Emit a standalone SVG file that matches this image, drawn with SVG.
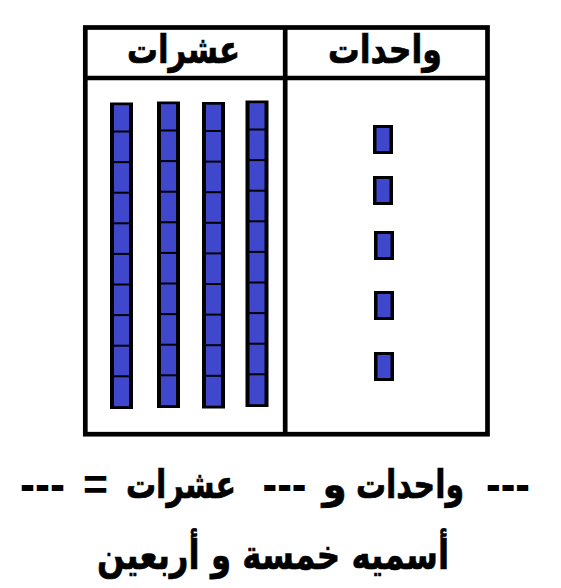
<svg xmlns="http://www.w3.org/2000/svg" width="561" height="588" viewBox="0 0 561 588">
<style>
.ar{font-family:"DejaVu Sans","Noto Sans",sans-serif;font-weight:bold;fill:#000;stroke:#000;stroke-width:0.7;}
.lat{font-family:"Liberation Sans",Arial,sans-serif;font-weight:bold;fill:#000;stroke:none;}
.blue{fill:#3F48CC;}
</style>
<defs>
<g id="rod">
<rect width="23" height="306.5" fill="#000"/>
<rect class="blue" x="4" y="2.7" width="15" height="25.3"/>
<rect class="blue" x="4" y="30" width="15" height="28.6"/>
<rect class="blue" x="4" y="60.6" width="15" height="28.6"/>
<rect class="blue" x="4" y="91.2" width="15" height="28.6"/>
<rect class="blue" x="4" y="121.8" width="15" height="28.6"/>
<rect class="blue" x="4" y="152.4" width="15" height="28.6"/>
<rect class="blue" x="4" y="183" width="15" height="28.6"/>
<rect class="blue" x="4" y="213.6" width="15" height="28.6"/>
<rect class="blue" x="4" y="244.2" width="15" height="28.6"/>
<rect class="blue" x="4" y="274.8" width="15" height="28.9"/>
</g>
<g id="unit">
<rect width="20" height="29" fill="#000"/>
<rect class="blue" x="3.5" y="3" width="13" height="23"/>
</g>
</defs>
<rect width="561" height="588" fill="#fff"/>
<g id="table" fill="none" stroke="#000" stroke-width="4.7">
<rect x="85.3" y="27.5" width="402.2" height="406.7"/>
<line x1="85.3" y1="78" x2="487.5" y2="78"/>
<line x1="285.2" y1="27.5" x2="285.2" y2="434.2"/>
</g>
<g id="header-tens"><text class="ar" x="183.5" y="63" font-size="39" text-anchor="middle" textLength="113" lengthAdjust="spacingAndGlyphs">عشرات</text></g>
<g id="header-units"><text class="ar" x="385" y="63" font-size="39" text-anchor="middle" textLength="114" lengthAdjust="spacingAndGlyphs">واحدات</text></g>
<g id="tens">
<use href="#rod" x="110" y="102.5"/>
<use href="#rod" x="157" y="101.5"/>
<use href="#rod" x="202" y="102"/>
<use href="#rod" x="245.5" y="100.5"/>
</g>
<g id="units">
<use href="#unit" x="373" y="125"/>
<use href="#unit" x="373" y="176"/>
<use href="#unit" x="374" y="231"/>
<use href="#unit" x="374" y="291"/>
<use href="#unit" x="374" y="352"/>
</g>
<g id="equation">
<text class="lat" x="42.5" y="501" font-size="50" text-anchor="middle" textLength="45" lengthAdjust="spacingAndGlyphs">---</text>
<text class="lat" x="95.5" y="500" font-size="44" text-anchor="middle" textLength="25" lengthAdjust="spacingAndGlyphs">=</text>
<text class="ar" transform="translate(181,498) scale(0.68,1)" x="0" y="0" font-size="39" text-anchor="middle" textLength="162" lengthAdjust="spacingAndGlyphs">عشرات</text>
<text class="lat" x="284.5" y="501" font-size="50" text-anchor="middle" textLength="44" lengthAdjust="spacingAndGlyphs">---</text>
<text class="ar" x="334.5" y="498" font-size="39" text-anchor="middle">و</text>
<text class="ar" transform="translate(410,498) scale(0.68,1)" x="0" y="0" font-size="39" text-anchor="middle" textLength="159" lengthAdjust="spacingAndGlyphs">واحدات</text>
<text class="lat" x="508" y="501" font-size="50" text-anchor="middle" textLength="44" lengthAdjust="spacingAndGlyphs">---</text>
</g>
<g id="answer">
<text class="ar" x="273" y="569" font-size="41" text-anchor="middle" direction="rtl" textLength="352" lengthAdjust="spacingAndGlyphs">أسميه خمسة و أربعين</text>
</g>
</svg>
